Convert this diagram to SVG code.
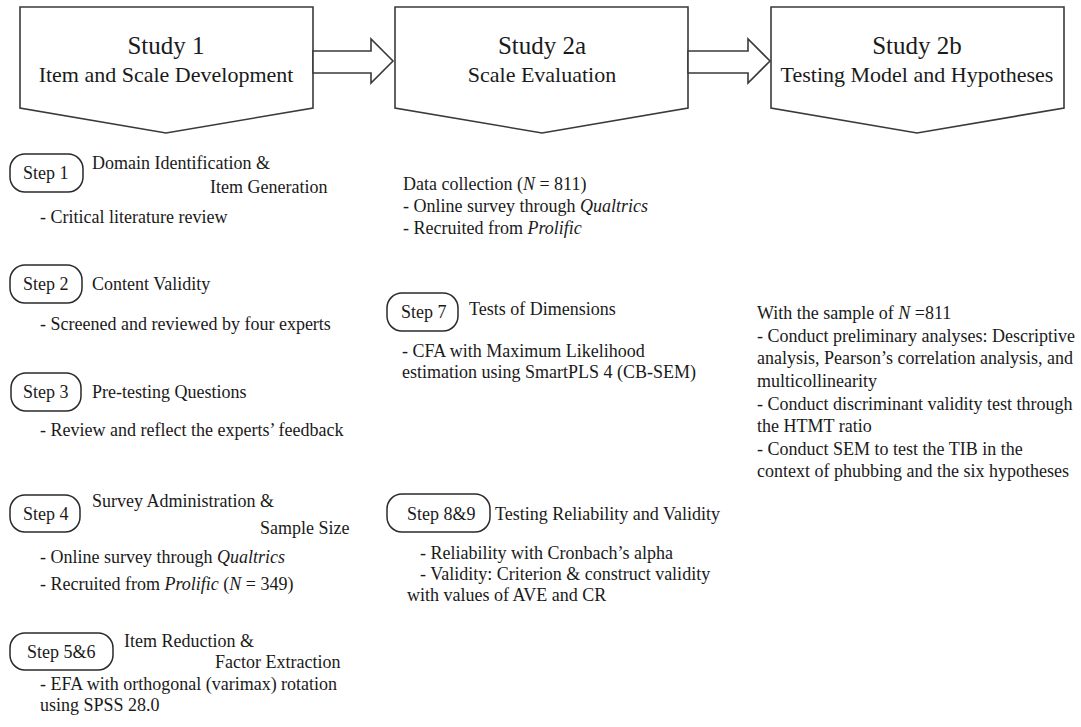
<svg xmlns="http://www.w3.org/2000/svg" width="1081" height="727" viewBox="0 0 1081 727">
  <style>
    text { font-family: "Liberation Serif", "Times New Roman", serif; fill: #1a1a1a; }
    .title { font-size: 25px; text-anchor: middle; }
    .sub { font-size: 22px; text-anchor: middle; }
    .body { font-size: 18px; }
    .pilltext { font-size: 18px; }
    .shape { fill: #ffffff; stroke: #3a3a3a; stroke-width: 1.6; stroke-linejoin: miter; }
    .pill { fill: #ffffff; stroke: #2a2a2a; stroke-width: 1.5; }
    .it { font-style: italic; }
  </style>
  <rect width="1081" height="727" fill="#ffffff"/>

  <!-- study headers -->
  <g id="study1">
    <path class="shape" d="M20,7 H313 V108 L166,133 L20,108 Z"/>
    <text class="title" x="166" y="54">Study 1</text>
    <text class="sub" x="166" y="82">Item and Scale Development</text>
  </g>
  <g id="study2a">
    <path class="shape" d="M395,7 H688 V108 L542,133 L395,108 Z"/>
    <text class="title" x="542" y="54">Study 2a</text>
    <text class="sub" x="542" y="82">Scale Evaluation</text>
  </g>
  <g id="study2b">
    <path class="shape" d="M771,7 H1064 V108 L917,133 L771,108 Z"/>
    <text class="title" x="917" y="54">Study 2b</text>
    <text class="sub" x="917" y="82">Testing Model and Hypotheses</text>
  </g>

  <!-- block arrows between studies -->
  <g id="connectors">
    <path class="shape" d="M313,51 H371 V39 L393,61 L371,83 V73 H313 Z"/>
    <path class="shape" d="M688,51 H748 V39 L770,61 L748,83 V73 H688 Z"/>
  </g>

  <!-- Study 1 steps -->
  <g id="step1">
    <rect class="pill" x="10" y="154" width="73" height="38" rx="15"/>
    <text class="pilltext" x="23" y="179">Step 1</text>
    <text class="body" x="92" y="169">Domain Identification &amp;</text>
    <text class="body" x="210" y="193">Item Generation</text>
    <text class="body" x="40" y="223">- Critical literature review</text>
  </g>
  <g id="step2">
    <rect class="pill" x="10" y="265" width="72" height="38" rx="15"/>
    <text class="pilltext" x="23" y="290">Step 2</text>
    <text class="body" x="92" y="290">Content Validity</text>
    <text class="body" x="40" y="330">- Screened and reviewed by four experts</text>
  </g>
  <g id="step3">
    <rect class="pill" x="11" y="373" width="70" height="38" rx="15"/>
    <text class="pilltext" x="23" y="398">Step 3</text>
    <text class="body" x="92" y="398">Pre-testing Questions</text>
    <text class="body" x="40" y="436">- Review and reflect the experts’ feedback</text>
  </g>
  <g id="step4">
    <rect class="pill" x="10" y="495" width="70" height="37" rx="15"/>
    <text class="pilltext" x="23" y="520">Step 4</text>
    <text class="body" x="92" y="507">Survey Administration &amp;</text>
    <text class="body" x="260" y="534">Sample Size</text>
    <text class="body" x="40" y="563">- Online survey through <tspan class="it">Qualtrics</tspan></text>
    <text class="body" x="40" y="590">- Recruited from <tspan class="it">Prolific</tspan> (<tspan class="it">N</tspan> = 349)</text>
  </g>
  <g id="step5-6">
    <rect class="pill" x="10" y="633" width="103" height="37" rx="15"/>
    <text class="pilltext" x="27" y="658">Step 5&amp;6</text>
    <text class="body" x="124" y="647">Item Reduction &amp;</text>
    <text class="body" x="215" y="668">Factor Extraction</text>
    <text class="body" x="40" y="690">- EFA with orthogonal (varimax) rotation</text>
    <text class="body" x="40" y="711">using SPSS 28.0</text>
  </g>

  <!-- Study 2a -->
  <g id="data-collection">
    <text class="body" x="403" y="190">Data collection (<tspan class="it">N</tspan> = 811)</text>
    <text class="body" x="403" y="212">- Online survey through <tspan class="it">Qualtrics</tspan></text>
    <text class="body" x="403" y="234">- Recruited from <tspan class="it">Prolific</tspan></text>
  </g>
  <g id="step7">
    <rect class="pill" x="387" y="293" width="71" height="38" rx="15"/>
    <text class="pilltext" x="401" y="318">Step 7</text>
    <text class="body" x="469" y="315">Tests of Dimensions</text>
    <text class="body" x="402" y="357">- CFA with Maximum Likelihood</text>
    <text class="body" x="402" y="378">estimation using SmartPLS 4 (CB-SEM)</text>
  </g>
  <g id="step8-9">
    <rect class="pill" x="387" y="494" width="103" height="38" rx="15"/>
    <text class="pilltext" x="407" y="520">Step 8&amp;9</text>
    <text class="body" x="495" y="520">Testing Reliability and Validity</text>
    <text class="body" x="420" y="559">- Reliability with Cronbach’s alpha</text>
    <text class="body" x="420" y="580">- Validity: Criterion &amp; construct validity</text>
    <text class="body" x="407" y="601">with values of AVE and CR</text>
  </g>

  <!-- Study 2b -->
  <g id="analysis">
    <text class="body" x="757" y="319">With the sample of <tspan class="it">N</tspan> =811</text>
    <text class="body" x="757" y="342">- Conduct preliminary analyses: Descriptive</text>
    <text class="body" x="757" y="364">analysis, Pearson’s correlation analysis, and</text>
    <text class="body" x="757" y="387">multicollinearity</text>
    <text class="body" x="757" y="410">- Conduct discriminant validity test through</text>
    <text class="body" x="757" y="432">the HTMT ratio</text>
    <text class="body" x="757" y="455">- Conduct SEM to test the TIB in the</text>
    <text class="body" x="757" y="477">context of phubbing and the six hypotheses</text>
  </g>
</svg>
